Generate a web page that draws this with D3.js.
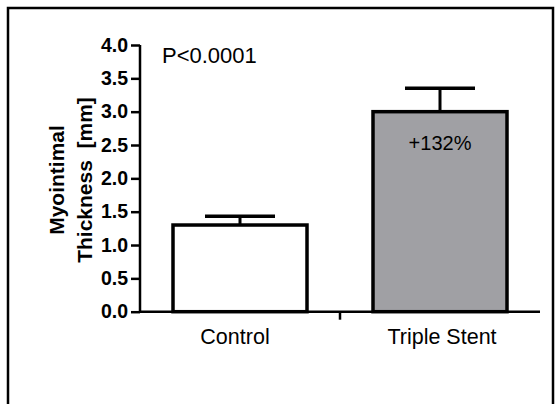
<!DOCTYPE html>
<html>
<head>
<meta charset="utf-8">
<script src="https://cdn.jsdelivr.net/npm/d3@7"></script>
<style>
  body { margin: 0; background: #fff; }
  svg { display: block; font-family: Arial, "Liberation Sans", sans-serif; }
</style>
</head>
<body>
<svg></svg>
<script>
const width = 557;
const height = 404;

// data
const groups = ["Control", "Triple Stent"];
const means = [1.30, 3.00];
const errors = [0.13, 0.35];
const fills = ["#ffffff", "#a0a0a4"];
const yTicks = [0, 0.5, 1, 1.5, 2, 2.5, 3, 3.5, 4];
const barNotes = ["", "+132%"];
const pText = "P<0.0001";

const plotLeft = 140;
const plotRight = 540;
const plotTop = 45;
const plotBottom = 311.7;

const svg = d3.select("svg")
  .attr("width", width)
  .attr("height", height);

// outer frame
svg.append("rect")
  .attr("x", 8).attr("y", 8)
  .attr("width", 545).attr("height", 420)
  .attr("fill", "none")
  .attr("stroke", "#000")
  .attr("stroke-width", 2.5);

const xScale = d3.scaleBand()
  .domain(groups)
  .range([plotLeft, plotRight])
  .paddingInner(0.33)
  .paddingOuter(0.165);

const yScale = d3.scaleLinear()
  .domain([0, 4])
  .range([plotBottom, plotTop]);

// bars
svg.selectAll(".bar")
  .data(groups)
  .enter()
  .append("rect")
  .attr("class", "bar")
  .attr("x", d => xScale(d))
  .attr("width", xScale.bandwidth())
  .attr("y", (d, i) => yScale(means[i]))
  .attr("height", (d, i) => yScale(0) - yScale(means[i]))
  .attr("fill", (d, i) => fills[i])
  .attr("stroke", "#000")
  .attr("stroke-width", 3.5);

// error bars (upper only)
const capHalf = 35;
groups.forEach((g, i) => {
  const cx = xScale(g) + xScale.bandwidth() / 2;
  svg.append("line")
    .attr("x1", cx).attr("x2", cx)
    .attr("y1", yScale(means[i])).attr("y2", yScale(means[i] + errors[i]))
    .attr("stroke", "#000").attr("stroke-width", 3);
  svg.append("line")
    .attr("x1", cx - capHalf).attr("x2", cx + capHalf)
    .attr("y1", yScale(means[i] + errors[i])).attr("y2", yScale(means[i] + errors[i]))
    .attr("stroke", "#000").attr("stroke-width", 3.5);
  if (barNotes[i]) {
    svg.append("text")
      .attr("x", cx).attr("y", yScale(means[i]) + 38)
      .attr("text-anchor", "middle")
      .style("font-size", "20px")
      .text(barNotes[i]);
  }
});

// y axis
const yAxis = d3.axisLeft(yScale)
  .tickValues(yTicks)
  .tickFormat(d3.format(".1f"))
  .tickSize(9)
  .tickPadding(3);

const yg = svg.append("g")
  .attr("transform", "translate(" + plotLeft + ",0)")
  .call(yAxis);
yg.select(".domain").attr("stroke-width", 2.5).attr("d", "M0," + plotTop + "V" + plotBottom);
yg.selectAll(".tick line").attr("stroke-width", 2.5);
yg.selectAll(".tick text")
  .style("font-size", "19.5px")
  .style("font-weight", "bold")
  .attr("fill", "#000");

// x axis: plain line with a tick between the groups
svg.append("line")
  .attr("x1", plotLeft).attr("x2", plotRight)
  .attr("y1", plotBottom).attr("y2", plotBottom)
  .attr("stroke", "#000").attr("stroke-width", 2.5);
svg.append("line")
  .attr("x1", (plotLeft + plotRight) / 2).attr("x2", (plotLeft + plotRight) / 2)
  .attr("y1", plotBottom).attr("y2", plotBottom + 8)
  .attr("stroke", "#000").attr("stroke-width", 2.5);

svg.selectAll(".xlab")
  .data(groups)
  .enter()
  .append("text")
  .attr("class", "xlab")
  .attr("x", (d, i) => xScale(d) + xScale.bandwidth() / 2 + (i === 0 ? -5 : 2))
  .attr("y", 344)
  .attr("text-anchor", "middle")
  .style("font-size", "21.5px")
  .text(d => d);

// y title, two lines
const title = svg.append("text")
  .attr("transform", "translate(0,180) rotate(-90)")
  .attr("text-anchor", "middle")
  .style("font-size", "21px")
  .style("font-weight", "bold");
title.append("tspan").attr("x", 0).attr("y", 64).text("Myointimal");
title.append("tspan").attr("x", 0).attr("y", 92).attr("xml:space", "preserve").text("Thickness  [mm]");

svg.append("text")
  .attr("x", 162).attr("y", 63)
  .style("font-size", "22px")
  .text(pText);
</script>
</body>
</html>
